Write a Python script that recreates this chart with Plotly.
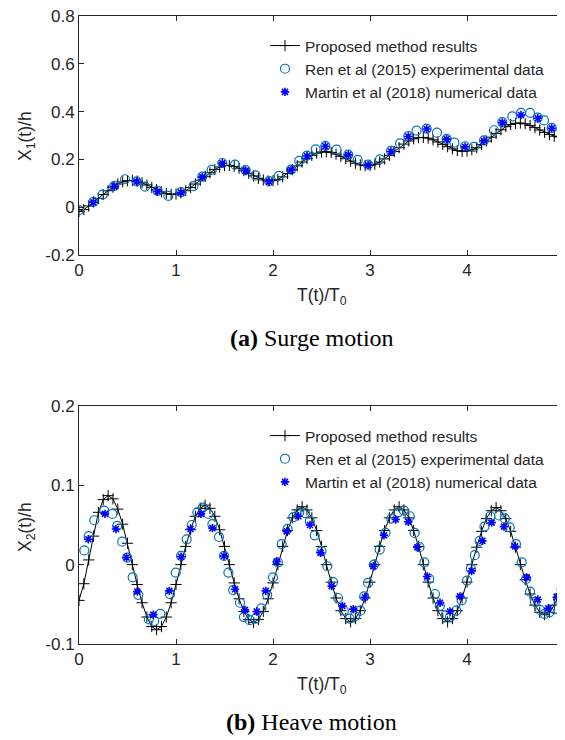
import plotly.graph_objects as go

# ---------------- data ----------------
TIME_GRID = [0.00, 0.05, 0.10, 0.15, 0.20, 0.25, 0.30, 0.35, 0.40, 0.45,
             0.50, 0.55, 0.60, 0.65, 0.70, 0.75, 0.80, 0.85, 0.90, 0.95,
             1.00, 1.05, 1.10, 1.15, 1.20, 1.25, 1.30, 1.35, 1.40, 1.45,
             1.50, 1.55, 1.60, 1.65, 1.70, 1.75, 1.80, 1.85, 1.90, 1.95,
             2.00, 2.05, 2.10, 2.15, 2.20, 2.25, 2.30, 2.35, 2.40, 2.45,
             2.50, 2.55, 2.60, 2.65, 2.70, 2.75, 2.80, 2.85, 2.90, 2.95,
             3.00, 3.05, 3.10, 3.15, 3.20, 3.25, 3.30, 3.35, 3.40, 3.45,
             3.50, 3.55, 3.60, 3.65, 3.70, 3.75, 3.80, 3.85, 3.90, 3.95,
             4.00, 4.05, 4.10, 4.15, 4.20, 4.25, 4.30, 4.35, 4.40, 4.45,
             4.50, 4.55, 4.60, 4.65, 4.70, 4.75, 4.80, 4.85, 4.90, 4.95,
             5.00]

SURGE_PROPOSED = [-0.018, -0.010, 0.005, 0.022, 0.037, 0.053, 0.069, 0.084, 0.097, 0.106,
                  0.111, 0.112, 0.109, 0.102, 0.093, 0.083, 0.073, 0.064, 0.057, 0.054,
                  0.055, 0.060, 0.069, 0.082, 0.097, 0.113, 0.129, 0.144, 0.158, 0.168,
                  0.174, 0.175, 0.171, 0.163, 0.153, 0.142, 0.131, 0.121, 0.114, 0.110,
                  0.111, 0.116, 0.127, 0.141, 0.157, 0.173, 0.189, 0.204, 0.217, 0.226,
                  0.231, 0.232, 0.229, 0.222, 0.213, 0.203, 0.193, 0.184, 0.177, 0.174,
                  0.175, 0.180, 0.189, 0.202, 0.217, 0.233, 0.249, 0.264, 0.277, 0.286,
                  0.291, 0.292, 0.289, 0.282, 0.273, 0.263, 0.253, 0.244, 0.237, 0.234,
                  0.235, 0.240, 0.249, 0.262, 0.277, 0.293, 0.309, 0.324, 0.337, 0.346,
                  0.351, 0.352, 0.349, 0.342, 0.333, 0.323, 0.313, 0.304, 0.297, 0.294,
                  0.295]

HEAVE_PROPOSED = [-0.045, -0.024, 0.006, 0.036, 0.066, 0.082, 0.087, 0.083, 0.070, 0.051,
                  0.027, 0.000, -0.025, -0.048, -0.066, -0.078, -0.082, -0.078, -0.066, -0.048,
                  -0.025, 0.000, 0.023, 0.044, 0.061, 0.071, 0.075, 0.071, 0.061, 0.044,
                  0.023, 0.000, -0.023, -0.043, -0.059, -0.069, -0.073, -0.069, -0.059, -0.043,
                  -0.023, 0.000, 0.023, 0.043, 0.059, 0.069, 0.073, 0.069, 0.059, 0.043,
                  0.023, 0.000, -0.022, -0.042, -0.058, -0.068, -0.072, -0.068, -0.058, -0.042,
                  -0.022, 0.000, 0.023, 0.043, 0.059, 0.069, 0.073, 0.069, 0.059, 0.043,
                  0.023, 0.000, -0.022, -0.042, -0.058, -0.068, -0.072, -0.068, -0.058, -0.042,
                  -0.022, 0.000, 0.022, 0.042, 0.058, 0.068, 0.072, 0.068, 0.058, 0.042,
                  0.022, 0.000, -0.019, -0.037, -0.051, -0.060, -0.063, -0.060, -0.051, -0.037,
                  -0.019]

SURGE_REN_T = [0.00, 0.148, 0.244, 0.364, 0.474, 0.594, 0.68, 0.81, 0.921, 1.052,
               1.18, 1.27, 1.368, 1.478, 1.608, 1.718, 1.82, 1.96, 2.06, 2.186,
               2.27, 2.35, 2.44, 2.54, 2.655, 2.776, 2.873, 2.98, 3.103, 3.216,
               3.31, 3.395, 3.48, 3.584, 3.69, 3.79, 3.87, 3.98, 4.072, 4.175,
               4.278, 4.364, 4.467, 4.557, 4.65, 4.73, 4.794, 4.873, 4.975]
SURGE_REN = [-0.012, 0.022, 0.053, 0.089, 0.117, 0.108, 0.086, 0.068, 0.047, 0.063,
             0.088, 0.128, 0.156, 0.185, 0.178, 0.155, 0.133, 0.109, 0.131, 0.157,
             0.194, 0.216, 0.242, 0.257, 0.241, 0.220, 0.198, 0.178, 0.200, 0.236,
             0.267, 0.298, 0.320, 0.329, 0.312, 0.286, 0.270, 0.255, 0.252, 0.280,
             0.322, 0.356, 0.380, 0.395, 0.395, 0.375, 0.363, 0.332, 0.323]

SURGE_MARTIN_T = [0.148, 0.364, 0.594, 0.81, 1.052, 1.27, 1.478, 1.718, 1.96, 2.186,
                  2.35, 2.54, 2.776, 2.98, 3.216, 3.395, 3.584, 3.79, 3.98, 4.175,
                  4.364, 4.557, 4.73, 4.873]
SURGE_MARTIN = [0.020, 0.087, 0.107, 0.066, 0.061, 0.126, 0.184, 0.153, 0.107, 0.156,
                0.214, 0.255, 0.219, 0.176, 0.233, 0.296, 0.327, 0.285, 0.253, 0.278,
                0.354, 0.386, 0.372, 0.330]

HEAVE_REN_T = [0.055, 0.10, 0.158, 0.26, 0.343, 0.394, 0.446, 0.498, 0.553, 0.611,
               0.72, 0.776, 0.838, 0.938, 0.997, 1.052, 1.11, 1.162, 1.22, 1.275,
               1.333, 1.375, 1.443, 1.495, 1.54, 1.59, 1.66, 1.70, 1.76, 1.82,
               1.88, 1.94, 2.00, 2.05, 2.09, 2.15, 2.21, 2.27, 2.33, 2.38,
               2.43, 2.50, 2.56, 2.62, 2.67, 2.73, 2.79, 2.845, 2.90, 2.94,
               2.98, 3.04, 3.10, 3.16, 3.22, 3.29, 3.35, 3.41, 3.46, 3.51,
               3.56, 3.61, 3.67, 3.72, 3.78, 3.825, 3.89, 3.945, 4.00, 4.04,
               4.08, 4.13, 4.18, 4.24, 4.33, 4.39, 4.44, 4.505, 4.564, 4.61,
               4.65, 4.70, 4.753, 4.80, 4.85, 4.90, 4.94, 4.976]
HEAVE_REN = [0.018, 0.036, 0.056, 0.068, 0.064, 0.049, 0.029, 0.009, -0.016, -0.038,
             -0.069, -0.071, -0.062, -0.037, -0.010, 0.011, 0.032, 0.050, 0.066, 0.072,
             0.064, 0.051, 0.035, 0.011, -0.010, -0.032, -0.048, -0.066, -0.070, -0.068,
             -0.055, -0.038, -0.016, 0.003, 0.026, 0.045, 0.060, 0.066, 0.065, 0.055,
             0.037, 0.017, -0.002, -0.022, -0.042, -0.058, -0.068, -0.065, -0.058, -0.040,
             -0.023, 0.000, 0.019, 0.040, 0.058, 0.066, 0.068, 0.061, 0.040, 0.022,
             0.003, -0.018, -0.037, -0.052, -0.064, -0.066, -0.058, -0.045, -0.020, -0.005,
             0.012, 0.030, 0.048, 0.061, 0.062, 0.058, 0.047, 0.026, 0.003, -0.018,
             -0.034, -0.047, -0.057, -0.062, -0.060, -0.056, -0.043, -0.031]

HEAVE_MARTIN_T = [0.096, 0.268, 0.381, 0.49, 0.601, 0.766, 0.931, 1.052, 1.15, 1.258,
                  1.375, 1.495, 1.608, 1.711, 1.832, 1.925, 2.038, 2.141, 2.261, 2.381,
                  2.49, 2.605, 2.715, 2.828, 2.948, 3.034, 3.144, 3.265, 3.395, 3.488,
                  3.59, 3.722, 3.825, 3.928, 4.048, 4.158, 4.254, 4.381, 4.495, 4.615,
                  4.729, 4.838, 4.925]
HEAVE_MARTIN = [0.032, 0.064, 0.045, 0.009, -0.034, -0.063, -0.033, 0.010, 0.045, 0.064,
                0.046, 0.011, -0.031, -0.057, -0.059, -0.033, 0.004, 0.042, 0.061, 0.050,
                0.015, -0.027, -0.052, -0.056, -0.041, -0.002, 0.037, 0.057, 0.054, 0.022,
                -0.015, -0.048, -0.059, -0.040, -0.008, 0.030, 0.053, 0.048, 0.023, -0.016,
                -0.044, -0.055, -0.041]

LEGEND_NAMES = ["Proposed method results",
                "Ren et al (2015) experimental data",
                "Martin et al (2018) numerical data"]
X_TICKS = [0, 1, 2, 3, 4, 5]
SURGE_Y_TICKS = [-0.2, 0, 0.2, 0.4, 0.6, 0.8]
SURGE_Y_LABELS = ["-0.2", "0", "0.2", "0.4", "0.6", "0.8"]
HEAVE_Y_TICKS = [-0.1, 0, 0.1, 0.2]
HEAVE_Y_LABELS = ["-0.1", "0", "0.1", "0.2"]

# ---------------- figure ----------------
W, H = 565, 740
OFF = 8  # page body margin in the browser
TXT = "#262626"
SANS = "Liberation Sans, Arial, Helvetica, sans-serif"
SERIF = "Liberation Serif, Times New Roman, serif"

fig = go.Figure()

def add_panel(xa, ya, legend, t_line, y_line, t_ren, y_ren, t_mar, y_mar):
    fig.add_trace(go.Scatter(
        x=t_line, y=y_line, mode="lines+markers", name=LEGEND_NAMES[0],
        xaxis=xa, yaxis=ya, legend=legend,
        line=dict(color="black", width=1),
        marker=dict(symbol="cross-thin", size=8, color="black",
                    line=dict(color="black", width=1))))
    fig.add_trace(go.Scatter(
        x=t_ren, y=y_ren, mode="markers", name=LEGEND_NAMES[1],
        xaxis=xa, yaxis=ya, legend=legend,
        marker=dict(symbol="circle-open", size=9, color="#0072BD",
                    line=dict(color="#0072BD", width=1.2))))
    fig.add_trace(go.Scatter(
        x=t_mar, y=y_mar, mode="markers", name=LEGEND_NAMES[2],
        xaxis=xa, yaxis=ya, legend=legend,
        marker=dict(symbol="asterisk-open", size=7, color="#0000FF",
                    line=dict(color="#0000FF", width=1.6))))

add_panel("x", "y", "legend", TIME_GRID, SURGE_PROPOSED,
          SURGE_REN_T, SURGE_REN, SURGE_MARTIN_T, SURGE_MARTIN)
add_panel("x2", "y2", "legend2", TIME_GRID, HEAVE_PROPOSED,
          HEAVE_REN_T, HEAVE_REN, HEAVE_MARTIN_T, HEAVE_MARTIN)

# pixel layout helpers (window pixel -> paper fraction)
def px_x(p):
    return (p - OFF) / W

def px_y(p):
    return 1 - (p - OFF) / H

L, R = 79, 564
TOP1, BOT1 = 16, 255
TOP2, BOT2 = 406, 644

axis_common = dict(
    showline=True, linecolor=TXT, linewidth=1, mirror="ticks",
    ticks="inside", ticklen=5, tickwidth=1, tickcolor=TXT,
    showgrid=False, zeroline=False, automargin=False,
    ticklabeloverflow="allow",
    tickfont=dict(family=SANS, size=17, color=TXT),
)

fig.update_layout(
    width=W, height=H,
    margin=dict(l=0, r=0, t=0, b=0, autoexpand=False),
    paper_bgcolor="white", plot_bgcolor="white",
    showlegend=True,
    xaxis=dict(domain=[px_x(L), px_x(R)], range=[0, 5], tickvals=X_TICKS,
               anchor="y", **axis_common),
    yaxis=dict(domain=[px_y(BOT1), px_y(TOP1)], range=[-0.2, 0.8],
               tickvals=SURGE_Y_TICKS, ticktext=SURGE_Y_LABELS,
               anchor="x", **axis_common),
    xaxis2=dict(domain=[px_x(L), px_x(R)], range=[0, 5], tickvals=X_TICKS,
                anchor="y2", **axis_common),
    yaxis2=dict(domain=[px_y(BOT2), px_y(TOP2)], range=[-0.1, 0.2],
                tickvals=HEAVE_Y_TICKS, ticktext=HEAVE_Y_LABELS,
                anchor="x2", **axis_common),
    legend=dict(x=px_x(265), y=px_y(29), xanchor="left", yanchor="top",
                bgcolor="rgba(0,0,0,0)", borderwidth=0,
                font=dict(family=SANS, size=15.5, color=TXT),
                tracegroupgap=0),
    legend2=dict(x=px_x(265), y=px_y(419), xanchor="left", yanchor="top",
                 bgcolor="rgba(0,0,0,0)", borderwidth=0,
                 font=dict(family=SANS, size=15.5, color=TXT),
                 tracegroupgap=0),
)

annos = [
    dict(text="T(t)/T<sub>0</sub>", x=px_x((L + R) / 2), y=px_y(296)),
    dict(text="T(t)/T<sub>0</sub>", x=px_x((L + R) / 2), y=px_y(685)),
    dict(text="X<sub>1</sub>(t)/h", x=px_x(26), y=px_y(136), textangle=-90),
    dict(text="X<sub>2</sub>(t)/h", x=px_x(26), y=px_y(527), textangle=-90),
]
for a in annos:
    fig.add_annotation(xref="paper", yref="paper", showarrow=False,
                       xanchor="center", yanchor="middle",
                       font=dict(family=SANS, size=17.5, color=TXT), **a)

caps = [
    dict(text="<b>(a)</b> Surge motion", x=px_x(312), y=px_y(338)),
    dict(text="<b>(b)</b> Heave motion", x=px_x(311), y=px_y(722)),
]
for c in caps:
    fig.add_annotation(xref="paper", yref="paper", showarrow=False,
                       xanchor="center", yanchor="middle",
                       font=dict(family=SERIF, size=24, color="black"), **c)

fig.write_html("out.html")
